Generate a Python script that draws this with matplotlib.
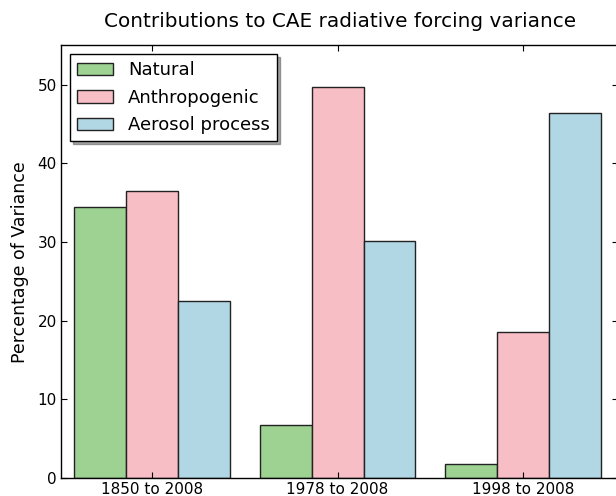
import numpy as np
import matplotlib
matplotlib.use("Agg")
import matplotlib.pyplot as plt

periods = ["1850 to 2008", "1978 to 2008", "1998 to 2008"]
natural = [34.4, 6.7, 1.85]
anthropogenic = [36.5, 49.7, 18.5]
aerosol = [22.45, 30.15, 46.4]

ind = np.arange(len(periods))
width = 0.28

fig = plt.figure(figsize=(6.16, 4.96), dpi=100)
ax = fig.add_axes([0.099, 0.036, 0.905, 0.873])

ax.bar(ind, natural, width, align="edge", color="#9dd293", edgecolor="#222222", linewidth=1, label="Natural")
ax.bar(ind + width, anthropogenic, width, align="edge", color="#f7bec5", edgecolor="#222222", linewidth=1, label="Anthropogenic")
ax.bar(ind + 2 * width, aerosol, width, align="edge", color="#b1d7e5", edgecolor="#222222", linewidth=1, label="Aerosol process")

ax.set_xlim(-0.072, 2.935)
ax.set_ylim(0, 55)
ax.set_yticks([0, 10, 20, 30, 40, 50])
ax.set_xticks(ind + 1.5 * width)
ax.set_xticklabels(periods)
ax.tick_params(direction="in", top=True, right=True, length=4, labelsize=11, pad=3)
ax.set_ylabel("Percentage of Variance", fontsize=12.5, labelpad=6)
ax.set_title("Contributions to CAE radiative forcing variance", fontsize=14.4, pad=13)

for s in ax.spines.values():
    s.set_linewidth(1)

leg = ax.legend(loc="upper left", fontsize=13, shadow=True, fancybox=False,
                framealpha=1, edgecolor="black", handlelength=2.0,
                borderaxespad=0.5, labelspacing=0.52)
leg.get_frame().set_linewidth(1)

fig.savefig("out.png", dpi=100)
